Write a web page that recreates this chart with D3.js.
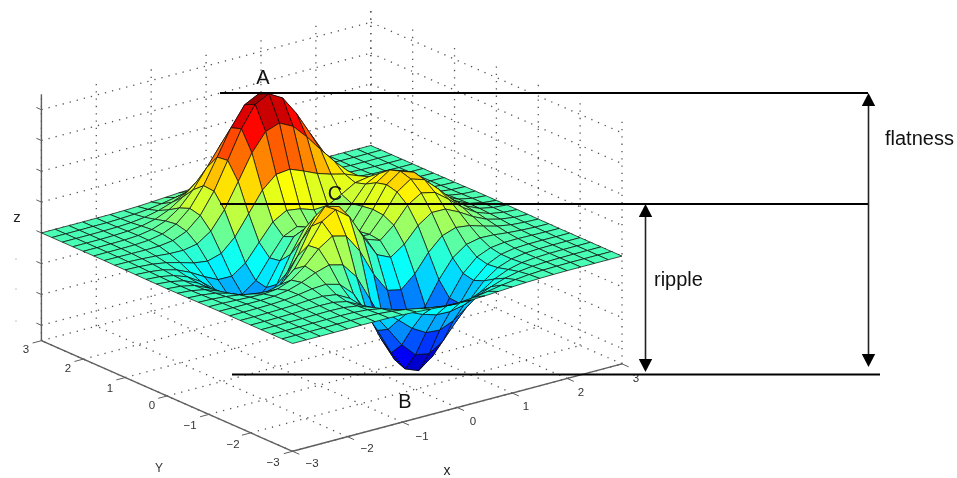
<!DOCTYPE html>
<html><head><meta charset="utf-8">
<style>html,body{margin:0;padding:0;background:#fff}svg{display:block;filter:blur(.35px)}text{font-family:"Liberation Sans",Arial,sans-serif}</style>
<script src="https://cdn.jsdelivr.net/npm/d3@7"></script></head><body>
<script>
const xValues=[-3,-2.75,-2.5,-2.25,-2,-1.75,-1.5,-1.25,-1,-.75,-.5,-.25,0,.25,.5,.75,1,1.25,1.5,1.75,2,2.25,2.5,2.75,3];
const yValues=xValues.slice();
const zRows=[
[0,0,0,0,0,.01,0,0,-.03,-.08,-.14,-.2,-.25,-.25,-.22,-.17,-.11,-.06,-.03,-.01,0,0,0,0,0],
[0,0,0,0,.01,.01,0,-.02,-.1,-.22,-.39,-.56,-.68,-.69,-.61,-.46,-.3,-.17,-.08,-.03,-.01,0,0,0,0],
[0,0,0,.01,.01,.02,0,-.07,-.23,-.53,-.91,-1.31,-1.57,-1.6,-1.41,-1.06,-.69,-.38,-.18,-.08,-.03,-.01,0,0,0],
[0,0,.01,.01,.03,.04,.01,-.12,-.44,-.99,-1.74,-2.51,-3.02,-3.1,-2.72,-2.05,-1.32,-.73,-.35,-.14,-.05,-.01,0,0,0],
[0,0,.01,.02,.05,.07,.05,-.13,-.59,-1.45,-2.64,-3.88,-4.76,-4.93,-4.35,-3.27,-2.1,-1.15,-.53,-.2,-.06,-.01,0,0,0],
[0,0,.01,.03,.07,.13,.15,.02,-.46,-1.48,-3.01,-4.7,-5.98,-6.33,-5.64,-4.24,-2.69,-1.42,-.61,-.2,-.04,0,.01,0,0],
[0,0,.01,.03,.08,.19,.33,.39,.15,-.68,-2.18,-4.07,-5.68,-6.32,-5.76,-4.31,-2.63,-1.27,-.44,-.07,.04,.05,.03,.01,0],
[0,-.01,-.01,-.01,.03,.17,.45,.84,1.11,.88,-.14,-1.85,-3.61,-4.61,-4.4,-3.23,-1.74,-.56,.08,.27,.23,.13,.06,.02,.01],
[-.01,-.02,-.06,-.1,-.13,-.04,.3,.98,1.86,2.45,2.22,1,-.73,-2.02,-2.22,-1.43,-.27,.58,.88,.77,.5,.26,.11,.04,.01],
[-.02,-.05,-.12,-.25,-.42,-.51,-.28,.49,1.78,3.09,3.63,2.94,1.4,0,-.41,.2,1.18,1.79,1.78,1.35,.82,.41,.18,.06,.02],
[-.03,-.08,-.2,-.44,-.8,-1.16,-1.21,-.6,.8,2.49,3.55,3.3,2,.7,.39,1.14,2.2,2.76,2.56,1.88,1.12,.56,.24,.09,.03],
[-.03,-.1,-.27,-.6,-1.14,-1.78,-2.16,-1.83,-.57,1.23,2.56,2.63,1.58,.53,.48,1.5,2.76,3.37,3.09,2.25,1.34,.67,.28,.1,.03],
[-.04,-.11,-.3,-.69,-1.33,-2.14,-2.77,-2.71,-1.65,.06,1.48,1.75,.98,.19,.37,1.57,2.94,3.58,3.27,2.37,1.41,.7,.3,.11,.03],
[-.03,-.11,-.29,-.67,-1.32,-2.16,-2.87,-2.98,-2.15,-.65,.68,1.06,.52,-.03,.28,1.47,2.76,3.36,3.06,2.22,1.32,.66,.28,.1,.03],
[-.03,-.09,-.25,-.57,-1.12,-1.85,-2.49,-2.64,-2,-.76,.39,.8,.46,.09,.38,1.34,2.38,2.83,2.56,1.84,1.09,.54,.23,.08,.03],
[-.02,-.07,-.18,-.42,-.82,-1.33,-1.76,-1.78,-1.16,-.05,1.04,1.55,1.42,1.12,1.17,1.65,2.17,2.32,1.99,1.4,.82,.4,.17,.06,.02],
[-.01,-.04,-.11,-.25,-.48,-.74,-.86,-.6,.23,1.51,2.8,3.59,3.69,3.34,2.94,2.66,2.43,2.08,1.58,1.04,.58,.28,.11,.04,.01],
[-.01,-.02,-.06,-.12,-.2,-.22,-.05,.55,1.7,3.29,4.92,6.07,6.39,5.94,5.02,3.97,2.97,2.09,1.35,.79,.41,.19,.07,.03,.01],
[0,-.01,-.02,-.03,-.01,.11,.48,1.27,2.61,4.37,6.19,7.54,7.99,7.48,6.25,4.72,3.25,2.05,1.18,.62,.29,.12,.05,.02,0],
[0,0,0,.01,.07,.24,.65,1.43,2.67,4.29,5.96,7.22,7.68,7.2,5.99,4.45,2.96,1.78,.96,.47,.21,.08,.03,.01,0],
[0,0,.01,.02,.08,.23,.55,1.16,2.1,3.31,4.56,5.51,5.86,5.5,4.57,3.37,2.21,1.29,.68,.32,.13,.05,.02,0,0],
[0,0,0,.02,.06,.16,.36,.74,1.32,2.07,2.84,3.43,3.65,3.43,2.84,2.09,1.36,.79,.41,.19,.08,.03,.01,0,0],
[0,0,0,.01,.03,.08,.19,.39,.69,1.07,1.47,1.77,1.89,1.77,1.47,1.08,.7,.4,.21,.09,.04,.01,0,0,0],
[0,0,0,.01,.01,.04,.09,.17,.3,.47,.64,.77,.82,.77,.64,.47,.3,.17,.09,.04,.02,.01,0,0,0],
[0,0,0,0,.01,.01,.03,.06,.11,.17,.23,.28,.3,.28,.23,.17,.11,.06,.03,.01,.01,0,0,0,0]
];
const axisTicks=[-3,-2,-1,0,1,2,3];
const zTicks=[-6,-4,-2,0,2,4,6,8];
const zLimits=[-7,9];
const jetStops=[0,.125,.375,.625,.875,1];
const jetColors=["#00008f","#0000ff","#00ffff","#ffff00","#ff0000","#800000"];

const W=957,H=478;
const svg=d3.select("body").append("svg").attr("width",W).attr("height",H);

// oblique projection built from linear scales
const xToPx=d3.scaleLinear([-3,3],[-164.7,164.7]);
const yToPx=d3.scaleLinear([-3,3],[125.6,-125.6]);
const xToPy=d3.scaleLinear([-3,3],[43.7,-43.7]);
const yToPy=d3.scaleLinear([-3,3],[55.3,-55.3]);
const zToPy=d3.scaleLinear([0,8],[0,-123.2]);
const px=(x,y)=>331.7+xToPx(x)+yToPx(y);
const py=(x,y,z)=>244.5+xToPy(x)+yToPy(y)+zToPy(z);
const P=(x,y,z)=>[px(x,y),py(x,y,z)];
const line3=d3.line();
const zMin=d3.min(zRows.flat()),zMax=d3.max(zRows.flat());
const tScale=d3.scaleLinear([zMin*1.03,zMax*1.01],[0,1]);
const jet=d3.scaleLinear(jetStops,jetColors).interpolate(d3.interpolateRgb);

// dotted box grid
const [zLo,zHi]=zLimits;
const segs=[];
axisTicks.forEach(t=>{
  segs.push([P(t,-3,zLo),P(t,3,zLo)]);
  segs.push([P(-3,t,zLo),P(3,t,zLo)]);
  segs.push([P(t,3,zLo),P(t,3,zHi)]);
  segs.push([P(3,t,zLo),P(3,t,zHi)]);
});
zTicks.forEach(z=>{
  segs.push([P(-3,3,z),P(3,3,z)]);
  segs.push([P(3,3,z),P(3,-3,z)]);
});
svg.append("g").selectAll("path").data(segs).join("path")
  .attr("d",d=>line3(d)).attr("fill","none").attr("stroke","#555")
  .attr("stroke-width",1.3).attr("stroke-dasharray","1.3 6");

// axes
const axisG=svg.append("g").attr("stroke","#5e5e5e").attr("stroke-width",1.4).attr("fill","none");
axisG.append("path").attr("d",line3([P(-3,3,zLo),P(-3,3,zHi)]));
axisG.append("path").attr("d",line3([P(-3,3,zLo),P(-3,-3,zLo)]));
axisG.append("path").attr("d",line3([P(-3,-3,zLo),P(3,-3,zLo)]));
axisTicks.forEach(t=>{
  axisG.append("path").attr("d",line3([P(t,-3,zLo),P(t,-3.16,zLo)])).attr("stroke-width",1);
  axisG.append("path").attr("d",line3([P(-3,t,zLo),P(-3.16,t,zLo)])).attr("stroke-width",1);
});
zTicks.forEach(z=>axisG.append("path").attr("d",line3([P(-3,3,z),P(-3,3.12,z)])).attr("stroke-width",1));

// surface cells painted far to near
const cells=[];
for(let j=0;j<yValues.length-1;j++)for(let i=0;i<xValues.length-1;i++){
  const xa=xValues[i],xb=xValues[i+1],ya=yValues[j],yb=yValues[j+1];
  const za=zRows[j][i],zb=zRows[j][i+1],zc=zRows[j+1][i+1],zd=zRows[j+1][i];
  cells.push({
    pts:[P(xa,ya,za),P(xb,ya,zb),P(xb,yb,zc),P(xa,yb,zd)],
    depth:(xa+xb)*14.5+(ya+yb)*18.5,
    c:(za+zb+zc+zd)/4
  });
}
cells.sort((a,b)=>b.depth-a.depth);
svg.append("g").selectAll("path").data(cells).join("path")
  .attr("d",d=>line3(d.pts)+"Z")
  .attr("fill",d=>jet(tScale(d.c)))
  .attr("stroke","#0d0d0d").attr("stroke-opacity",.85).attr("stroke-width",.85).attr("stroke-linejoin","round");

// tick labels
const fmt=v=>v<0?"\u2212"+(-v):""+v;
const yLabelPos=[[273,462],[233,444],[190,425],[152,405],[110,388],[68,368],[26,349]];
const xLabelPos=[[312,463],[367,448],[422,436],[473,421],[526,406],[581,392],[636,378]];
const tl=svg.append("g").attr("font-size",11.5).attr("fill","#333").attr("text-anchor","middle");
axisTicks.forEach((t,i)=>{
  tl.append("text").attr("x",yLabelPos[i][0]).attr("y",yLabelPos[i][1]+4).text(fmt(t));
  tl.append("text").attr("x",xLabelPos[i][0]).attr("y",xLabelPos[i][1]+4).text(fmt(t));
});
tl.append("text").attr("x",17).attr("y",222).attr("font-size",15).attr("fill","#222").text("z");
tl.append("text").attr("x",159).attr("y",472).attr("font-size",12).text("Y");
tl.append("text").attr("x",447).attr("y",475).attr("font-size",14).attr("fill","#222").text("x");
[259,289,321].forEach(y=>tl.append("circle").attr("cx",16).attr("cy",y).attr("r",.6).attr("fill","#777"));

// annotation
const ann=svg.append("g").attr("stroke","#000").attr("stroke-width",2.2);
[[220,868,93],[220,868,204],[232,880,374.5]].forEach(([a,b,y])=>ann.append("line").attr("x1",a).attr("x2",b).attr("y1",y).attr("y2",y));
[[868.5,93,367],[645.5,204,372]].forEach(([x,a,b])=>{
  ann.append("line").attr("x1",x).attr("x2",x).attr("y1",a+8).attr("y2",b-8).attr("stroke","#222").attr("stroke-width",1.6);
  ann.append("path").attr("stroke","none").attr("d",`M${x},${a}l6.7,13h-13.4Z`);
  ann.append("path").attr("stroke","none").attr("d",`M${x},${b}l6.7,-13h-13.4Z`);
});
const lab=svg.append("g").attr("font-size",20).attr("fill","#111");
[["A",263,84],["C",335,200],["B",405,408]].forEach(([t,x,y])=>lab.append("text").attr("x",x).attr("y",y).attr("text-anchor","middle").text(t));
[["flatness",885,145],["ripple",654,286]].forEach(([t,x,y])=>lab.append("text").attr("x",x).attr("y",y).text(t));
</script></body></html>
